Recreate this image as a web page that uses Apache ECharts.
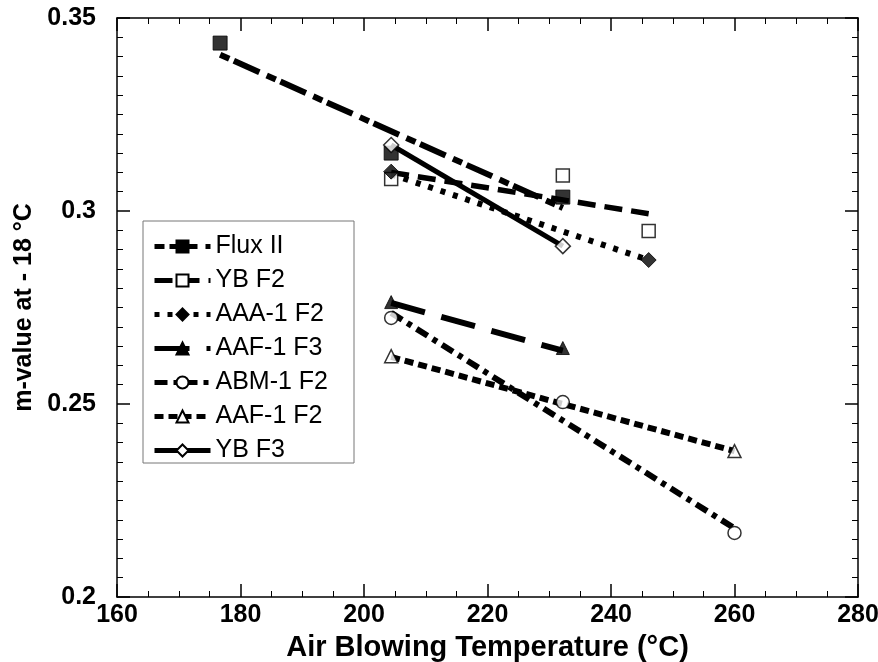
<!DOCTYPE html>
<html>
<head>
<meta charset="utf-8">
<script src="https://cdn.jsdelivr.net/npm/echarts@6/dist/echarts.min.js"></script>
<style>html,body{margin:0;padding:0;background:#fff}#c{width:878px;height:662px}</style>
</head>
<body>
<div id="c"></div>
<script>
// ---- data ----
const seriesNames = ['Flux II', 'YB F2', 'AAA-1 F2', 'AAF-1 F3', 'ABM-1 F2', 'AAF-1 F2', 'YB F3'];
const xTicks = [160, 180, 200, 220, 240, 260, 280];
const yTicks = [0.2, 0.25, 0.3, 0.35];

// measured points [temperature °C, m-value]
const fluxII   = [[176.7, 0.3435], [204.4, 0.315], [232.2, 0.3036]];
const ybF2     = [[204.4, 0.3083], [232.2, 0.3092], [246.1, 0.2948]];
const aaa1F2   = [[204.4, 0.3102], [246.1, 0.2873]];
const aaf1F3   = [[204.4, 0.2764], [232.2, 0.2645]];
const abm1F2   = [[204.4, 0.2723], [232.2, 0.2505], [260.0, 0.2166]];
const aaf1F2   = [[204.4, 0.2624], [260.0, 0.2378]];
const ybF3     = [[204.4, 0.3171], [232.2, 0.2909]];

// trend-line end points as drawn in the picture
const fluxIIFit = [[176.7, 0.3405], [232.2, 0.3008]];
const ybF2Fit   = [[204.4, 0.3100], [246.1, 0.2993]];
const aaa1F2Fit = [[204.4, 0.3095], [246.1, 0.2873]];
const aaf1F3Fit = [[204.4, 0.2762], [232.2, 0.2638]];
const abm1F2Fit = [[204.4, 0.2736], [260.0, 0.2178]];
const aaf1F2Fit = [[204.4, 0.2622], [260.0, 0.2378]];
const ybF3Fit   = [[204.4, 0.3171], [232.2, 0.2909]];

const points = [fluxII, ybF2, aaa1F2, aaf1F3, abm1F2, aaf1F2, ybF3];
const fits = [fluxIIFit, ybF2Fit, aaa1F2Fit, aaf1F3Fit, abm1F2Fit, aaf1F2Fit, ybF3Fit];

// ---- styles ----
const FONT = '"Liberation Sans", Arial, Helvetica, sans-serif';
const filled = {color: '#000', borderColor: '#000', borderWidth: 1};
const open = {color: '#fff', borderColor: '#000', borderWidth: 1.5};
const styles = [
  {symbol: 'rect', size: 14, item: filled, dash: [10, 5, 28, 8], width: 6},
  {symbol: 'rect', size: 13, item: open, dash: [18, 9], width: 5.5},
  {symbol: 'diamond', size: 15, item: filled, dash: [5, 8], width: 6},
  {symbol: 'triangle', size: 13, item: filled, dash: [35, 17], width: 6},
  {symbol: 'circle', size: 13, item: open, dash: [13, 6, 5, 6], width: 6},
  {symbol: 'triangle', size: 13, item: open, dash: [9, 5], width: 6},
  {symbol: 'diamond', size: 15, item: open, dash: 'solid', width: 5}
];

const series = [];
seriesNames.forEach((name, i) => {
  const s = styles[i];
  series.push({
    name: name, type: 'line', data: fits[i],
    symbol: s.symbol, symbolSize: s.size, showSymbol: false,
    lineStyle: {color: '#000', width: s.width, type: s.dash, cap: 'butt'},
    itemStyle: s.item, z: 2, silent: true
  });
});
seriesNames.forEach((name, i) => {
  const s = styles[i];
  series.push({
    name: name, type: 'scatter', data: points[i],
    symbol: s.symbol, symbolSize: s.size,
    itemStyle: s.item, z: 5, silent: true
  });
});

const axisLine = {show: true, onZero: false, lineStyle: {color: '#000', width: 1.5}};
function xAx(pos, labels) {
  return {
    type: 'value', position: pos, min: xTicks[0], max: xTicks[xTicks.length - 1], interval: 20,
    axisLine: axisLine,
    axisTick: {show: true, inside: true, length: 13, lineStyle: {color: '#000', width: 1.5}},
    minorTick: {show: true, splitNumber: 4, length: 6, lineStyle: {color: '#000', width: 1}},
    splitLine: {show: false}, minorSplitLine: {show: false},
    axisLabel: {show: labels, color: '#000', fontFamily: FONT, fontWeight: 'bold', fontSize: 25, margin: 6},
    name: labels ? 'Air Blowing Temperature (°C)' : '',
    nameLocation: 'middle', nameGap: 36,
    nameTextStyle: {color: '#000', fontFamily: FONT, fontWeight: 'bold', fontSize: 29, lineHeight: 29}
  };
}
function yAx(pos, labels) {
  return {
    type: 'value', position: pos, min: yTicks[0], max: yTicks[yTicks.length - 1], interval: 0.05,
    axisLine: axisLine,
    axisTick: {show: true, inside: true, length: 13, lineStyle: {color: '#000', width: 1.5}},
    minorTick: {show: true, splitNumber: 10, length: 6, lineStyle: {color: '#000', width: 1}},
    splitLine: {show: false}, minorSplitLine: {show: false},
    axisLabel: {show: labels, color: '#000', fontFamily: FONT, fontWeight: 'bold', fontSize: 25, margin: 21},
    name: labels ? 'm-value at - 18 °C' : '',
    nameLocation: 'middle', nameGap: 80,
    nameTextStyle: {color: '#000', fontFamily: FONT, fontWeight: 'bold', fontSize: 25}
  };
}

const chart = echarts.init(document.getElementById('c'), null, {renderer: 'canvas'});
chart.setOption({
  animation: false,
  backgroundColor: '#fff',
  grid: {left: 117, right: 20, top: 18, bottom: 65, containLabel: false, outerBoundsMode: 'none'},
  xAxis: [xAx('bottom', true), xAx('top', false)],
  yAxis: [yAx('left', true), yAx('right', false)],
  legend: {
    orient: 'vertical', left: 152, top: 234, padding: 0,
    itemWidth: 56, itemHeight: 15, itemGap: 9,
    data: seriesNames, selectedMode: false,
    lineStyle: {width: 5},
    textStyle: {color: '#000', fontFamily: FONT, fontSize: 25, lineHeight: 24}
  },
  graphic: [{
    type: 'rect', z: -1, silent: true,
    shape: {x: 143, y: 221, width: 211, height: 242},
    style: {fill: '#fff', stroke: '#777', lineWidth: 1}
  }],
  series: series
});
</script>
</body>
</html>
